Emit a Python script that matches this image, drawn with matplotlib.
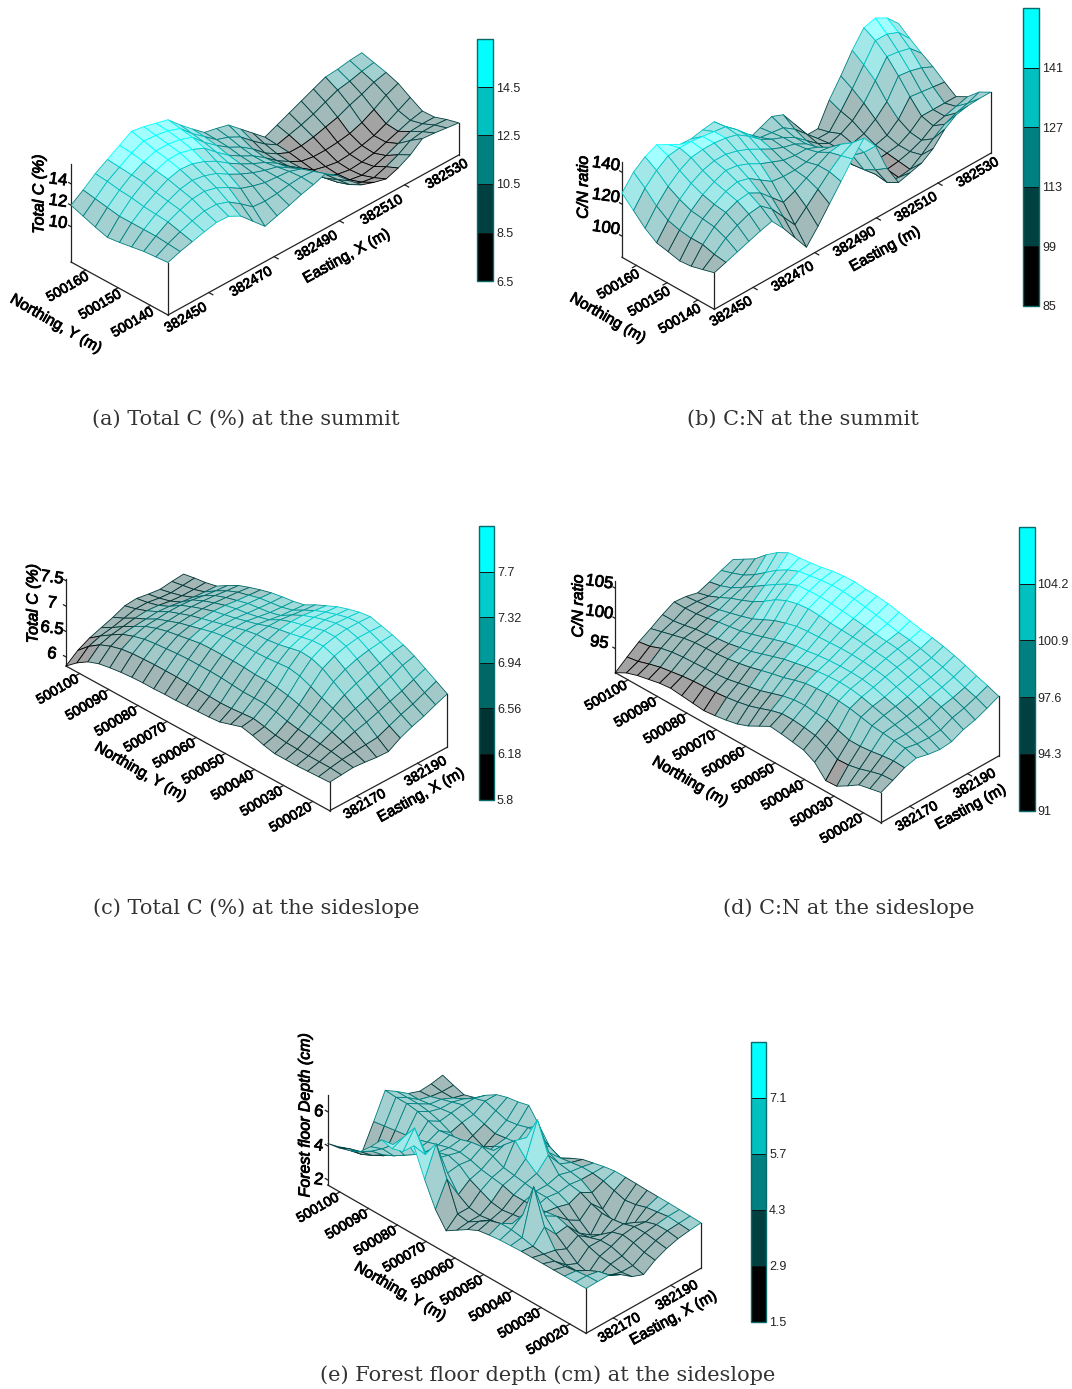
import numpy as np
import matplotlib
matplotlib.use("Agg")
import matplotlib.pyplot as plt
import matplotlib.patheffects as pe
from matplotlib.cm import ScalarMappable
from matplotlib.colors import ListedColormap, BoundaryNorm
from mpl_toolkits.mplot3d import proj3d

W, H = 1072, 1389
plt.rcParams["font.family"] = ["Liberation Sans", "DejaVu Sans"]

# --- data, rows run along Easting ---
total_c_summit = [
    [11.6, 12.0, 12.3, 12.6, 12.85, 12.8, 12.2, 11.1, 10.0, 10.35, 10.7, 11.1, 11.4, 11.8, 11.0, 9.9, 8.9, 8.5, 8.2, 8.6, 9.2, 10.1, 10.0, 9.85, 9.7],
    [11.5, 12.1, 12.6, 13.0, 13.3, 13.3, 12.9, 12.1, 11.2, 11.1, 11.2, 11.4, 11.5, 11.4, 10.5, 9.4, 8.3, 7.9, 7.7, 8.1, 8.6, 9.3, 9.5, 9.5, 9.4],
    [11.4, 12.2, 12.9, 13.4, 13.8, 13.9, 13.6, 13.0, 12.3, 11.9, 11.6, 11.5, 11.4, 11.0, 10.0, 8.9, 7.9, 7.5, 7.3, 7.5, 7.9, 8.4, 8.9, 9.0, 9.0],
    [11.2, 12.2, 13.0, 13.6, 14.1, 14.3, 14.1, 13.7, 13.0, 12.4, 11.9, 11.5, 11.2, 10.5, 9.6, 8.7, 7.8, 7.4, 7.2, 7.3, 7.5, 7.9, 8.3, 8.7, 8.95],
    [11.0, 12.2, 13.1, 13.8, 14.4, 14.7, 14.6, 14.2, 13.6, 12.8, 12.1, 11.5, 11.0, 10.3, 9.4, 8.6, 7.8, 7.5, 7.3, 7.4, 7.6, 7.9, 8.4, 9.0, 9.6],
    [10.85, 12.2, 13.3, 14.1, 14.6, 15.0, 15.0, 14.7, 14.2, 13.2, 12.3, 11.6, 11.0, 10.2, 9.3, 8.6, 8.0, 7.8, 7.8, 7.9, 8.1, 8.5, 9.1, 9.8, 10.3],
    [11.2, 12.4, 13.4, 14.2, 14.8, 15.2, 15.2, 15.0, 14.6, 13.5, 12.6, 11.8, 11.2, 10.4, 9.4, 8.7, 8.2, 8.2, 8.4, 8.7, 9.0, 9.5, 9.9, 10.4, 10.7],
    [11.6, 12.6, 13.6, 14.3, 15.0, 15.5, 15.4, 15.2, 14.8, 13.7, 12.8, 11.9, 11.5, 10.9, 9.9, 9.0, 8.3, 8.6, 8.9, 9.3, 9.8, 10.3, 10.5, 10.8, 11.0],
    [12.0, 12.8, 13.7, 14.4, 15.1, 15.8, 15.6, 15.3, 15.0, 13.9, 12.9, 11.95, 11.7, 11.4, 10.4, 9.4, 8.4, 8.9, 9.4, 9.9, 10.4, 10.9, 11.0, 11.2, 11.3],
]
cn_summit = [
    [109.6, 112, 114.5, 117, 119.5, 121.5, 113, 103, 93, 102, 112, 122, 132, 141, 132, 114, 101, 103, 105, 110, 118, 123, 124.5, 125, 125],
    [107.5, 113, 119, 123, 126, 127, 121, 112, 103, 110, 117, 124, 130, 134, 124, 109, 97, 96, 97, 102, 108, 113, 116, 118, 121],
    [105.5, 115, 122, 127, 130, 131, 127, 120, 113, 116, 120, 124, 128, 129, 118, 105, 98, 97, 98, 100, 103, 108, 110, 112, 114],
    [104.8, 115, 123, 128, 132, 134, 132, 127, 122, 121, 121, 122, 124, 123, 114, 104, 99, 98, 99, 100, 104, 110, 110, 110, 110],
    [106.5, 116, 124, 130, 134, 137, 136, 133, 129, 126, 123, 122, 122, 119, 111, 104, 100, 100, 100, 102, 108, 118, 117, 116, 115],
    [108, 118, 127, 133, 137, 139, 139, 137, 134, 130, 126, 123, 121, 117, 110, 104, 101, 101, 103, 108, 115, 127, 126, 124, 120.5],
    [113, 123, 131, 137, 141, 142, 142, 141, 139, 134, 128, 124, 121, 117, 111, 105, 101, 103, 107, 114, 124, 135, 134, 132, 125],
    [120, 130, 137, 142, 143, 143, 142, 141, 140, 134, 127, 121, 120, 119, 114, 107, 100, 100, 109, 119, 130, 141, 141, 138, 130],
    [127, 136, 141.5, 145, 141, 137, 136.5, 138, 139, 132, 124, 116, 119, 122, 119, 109, 98, 98, 112, 123, 135, 145, 147, 143, 135.5],
]
# --- sideslope grids: rows run along Northing, one row per Easting step ---
total_c_side = [
    [6.38, 6.37, 6.36, 6.35, 6.35, 6.35, 6.4, 6.47, 6.52, 6.45, 6.38, 6.36, 6.35, 6.34, 6.33, 6.33, 6.32, 6.32, 6.31, 6.29, 6.26, 6.22, 6.14, 6.0, 5.82],
    [6.40, 6.42, 6.42, 6.42, 6.43, 6.44, 6.47, 6.52, 6.56, 6.54, 6.52, 6.51, 6.52, 6.53, 6.54, 6.55, 6.55, 6.55, 6.54, 6.53, 6.5, 6.44, 6.35, 6.2, 6.0],
    [6.42, 6.46, 6.50, 6.53, 6.56, 6.58, 6.62, 6.68, 6.72, 6.72, 6.72, 6.74, 6.76, 6.77, 6.77, 6.77, 6.76, 6.74, 6.72, 6.69, 6.63, 6.55, 6.42, 6.28, 6.12],
    [6.40, 6.48, 6.56, 6.64, 6.70, 6.75, 6.82, 6.88, 6.92, 6.94, 6.94, 6.96, 6.97, 6.97, 6.97, 6.96, 6.92, 6.88, 6.84, 6.78, 6.7, 6.58, 6.46, 6.32, 6.2],
    [6.37, 6.5, 6.64, 6.76, 6.86, 6.95, 7.05, 7.14, 7.18, 7.16, 7.14, 7.13, 7.13, 7.12, 7.1, 7.06, 7.0, 6.94, 6.88, 6.8, 6.72, 6.6, 6.5, 6.38, 6.28],
    [6.36, 6.52, 6.7, 6.85, 7.0, 7.14, 7.28, 7.36, 7.38, 7.33, 7.28, 7.25, 7.24, 7.2, 7.14, 7.08, 7.02, 6.96, 6.9, 6.82, 6.74, 6.62, 6.52, 6.44, 6.38],
    [6.5, 6.62, 6.78, 6.93, 7.1, 7.26, 7.4, 7.48, 7.47, 7.42, 7.37, 7.33, 7.28, 7.2, 7.14, 7.08, 7.03, 6.98, 6.91, 6.83, 6.74, 6.6, 6.5, 6.44, 6.4],
    [6.6, 6.72, 6.86, 7.02, 7.18, 7.34, 7.47, 7.54, 7.54, 7.48, 7.42, 7.36, 7.28, 7.16, 7.1, 7.05, 7.02, 6.97, 6.9, 6.82, 6.72, 6.56, 6.46, 6.4, 6.36],
    [6.68, 6.8, 6.94, 7.1, 7.25, 7.39, 7.51, 7.57, 7.56, 7.51, 7.44, 7.36, 7.25, 7.12, 7.06, 7.03, 7.0, 6.94, 6.88, 6.8, 6.68, 6.53, 6.44, 6.38, 6.33],
    [6.78, 6.9, 7.04, 7.2, 7.32, 7.42, 7.51, 7.57, 7.55, 7.49, 7.42, 7.33, 7.22, 7.1, 7.04, 7.01, 6.98, 6.92, 6.86, 6.77, 6.65, 6.51, 6.44, 6.4, 6.36],
    [6.87, 7.0, 7.13, 7.26, 7.36, 7.44, 7.5, 7.56, 7.53, 7.47, 7.4, 7.3, 7.2, 7.08, 7.03, 7.0, 6.96, 6.9, 6.83, 6.75, 6.63, 6.5, 6.45, 6.42, 6.38],
]
cn_side = [
    [96, 95.6, 95.2, 94, 92.9, 92.8, 94.8, 95.8, 96.1, 96.4, 96.6, 95.6, 94.6, 93.9, 93.5, 93.2, 93, 93.2, 93.4, 93.6, 93.4, 93.0, 92.6, 92, 91],
    [96.9, 96.8, 96.3, 95.7, 95.3, 95.2, 96.3, 97.1, 97.4, 97.6, 97.6, 97.1, 96.4, 95.8, 95.4, 95.1, 94.9, 94.8, 94.7, 94.5, 94.2, 93.9, 93.4, 92.8, 92.5],
    [97.9, 98, 97.8, 97.5, 97.3, 97.3, 97.9, 98.5, 98.7, 98.9, 98.8, 98.4, 97.8, 97.2, 96.8, 96.4, 96, 95.8, 95.7, 95.6, 95.5, 95.3, 94.9, 94.2, 93.9],
    [98.4, 99, 99.2, 99.4, 99.6, 100, 100.4, 100.6, 100.7, 100.6, 100.4, 99.9, 99.3, 98.9, 98.4, 97.9, 97.5, 97.2, 97, 96.9, 96.8, 96.5, 96, 95.5, 95],
    [97.9, 98.6, 99.2, 99.7, 100.2, 100.7, 101.2, 101.5, 101.6, 101.5, 101.3, 101, 100.6, 100.2, 99.6, 99, 98.4, 98, 97.6, 97.4, 97.1, 96.9, 96.5, 96.2, 96.2],
    [97.6, 98.5, 99.3, 100, 100.6, 101.1, 101.7, 102, 102.1, 102.1, 102, 101.8, 101.5, 101.3, 100.9, 100.3, 99.7, 99.1, 98.6, 98.3, 98, 97.6, 97.3, 97.2, 97.2],
    [97.8, 98.7, 99.6, 100.4, 101.1, 101.7, 102.3, 102.6, 102.8, 102.9, 102.9, 102.8, 102.7, 102.6, 102.4, 101.9, 101.3, 100.4, 99.5, 98.9, 98.4, 97.9, 97.5, 97.2, 97],
    [98.7, 99.6, 100.4, 101, 101.7, 102.2, 102.8, 103.2, 103.4, 103.6, 103.7, 103.8, 103.9, 104.1, 104.2, 104, 103.5, 102.6, 101.3, 100.2, 99.4, 98.7, 97.8, 97, 96.5],
    [99.2, 100.1, 100.8, 101.5, 102.1, 102.7, 103.2, 103.7, 103.9, 104.1, 104.4, 104.6, 104.8, 105, 105.1, 105, 104.9, 104.1, 103, 101.8, 100.6, 99.4, 98.3, 97.6, 97.2],
    [100, 100.8, 101.4, 102.1, 102.7, 103.2, 103.7, 104.1, 104.3, 104.7, 105.1, 105.4, 105.7, 105.9, 105.9, 105.7, 105.4, 105.1, 104.3, 103.2, 101.8, 100.4, 99.3, 98.6, 98],
    [100.9, 101.6, 102.2, 102.9, 103.5, 104, 104.4, 104.7, 105.1, 105.5, 105.9, 106.1, 106.2, 106.4, 106.3, 106.1, 105.7, 105.4, 105.2, 105, 104, 102.6, 100.9, 99.8, 98.7],
]
depth_side = [
    [4.33, 4.33, 4.33, 4.33, 4.33, 4.33, 4.33, 4.30, 4.27, 4.2, 4.1, 3.8, 3.4, 3.0, 3.9, 5.3, 6.9, 6.2, 6.0, 6.16, 5.4, 4.74, 4.45, 4.25, 4.14],
    [4.35, 4.33, 4.25, 4.15, 4.1, 4.15, 4.25, 4.4, 4.5, 4.5, 4.3, 3.9, 3.5, 3.6, 5.3, 7.0, 6.0, 7.2, 6.3, 5.5, 4.9, 4.4, 4.0, 3.8, 3.55],
    [4.35, 4.2, 3.9, 3.5, 3.5, 4.0, 5.0, 7.0, 5.0, 4.1, 3.7, 3.6, 3.5, 3.6, 4.0, 4.9, 5.4, 5.3, 4.9, 4.5, 4.1, 3.8, 3.4, 3.1, 2.95],
    [4.0, 3.6, 3.2, 3.0, 3.2, 3.7, 4.2, 4.9, 4.3, 4.0, 3.9, 3.8, 3.9, 4.2, 4.5, 5.0, 5.2, 5.0, 4.7, 4.4, 4.0, 3.5, 3.0, 2.7, 2.5],
    [3.5, 3.4, 3.5, 3.6, 3.8, 4.1, 4.3, 4.5, 4.4, 4.3, 4.3, 4.3, 4.5, 4.6, 4.7, 4.9, 5.0, 4.9, 4.7, 4.5, 4.3, 4.2, 4.1, 4.0, 3.9],
    [3.24, 3.4, 3.6, 3.8, 3.8, 3.6, 3.5, 3.9, 4.3, 4.5, 4.5, 4.6, 4.7, 4.8, 5.1, 5.3, 5.2, 5.0, 4.9, 4.8, 5.0, 5.2, 5.3, 5.3, 5.35],
    [3.7, 3.8, 4.0, 4.1, 3.9, 3.4, 3.0, 3.5, 4.1, 4.4, 4.5, 4.8, 5.3, 6.0, 5.4, 4.7, 4.0, 3.2, 3.8, 4.3, 4.6, 4.8, 4.9, 4.9, 4.9],
    [4.0, 4.1, 4.2, 4.2, 4.0, 3.9, 3.9, 4.1, 4.4, 4.5, 4.7, 5.5, 7.2, 5.8, 4.9, 4.5, 4.2, 3.8, 4.1, 4.5, 4.7, 4.6, 4.5, 4.4, 4.4],
    [4.2, 4.3, 4.3, 4.1, 3.7, 3.1, 3.0, 3.4, 4.0, 4.4, 4.5, 4.6, 4.9, 5.0, 4.7, 4.4, 4.3, 4.2, 4.4, 4.6, 4.8, 4.6, 4.4, 4.2, 4.15],
    [4.3, 4.35, 4.4, 4.3, 4.2, 4.0, 3.9, 4.1, 4.3, 4.4, 4.4, 4.3, 4.2, 4.5, 4.9, 4.9, 4.7, 4.6, 4.8, 5.0, 4.8, 4.4, 4.1, 4.1, 4.2],
    [4.37, 4.4, 4.42, 4.44, 4.45, 4.46, 4.48, 4.5, 4.5, 4.4, 4.25, 4.1, 3.8, 3.4, 3.7, 4.6, 5.46, 5.3, 5.2, 5.0, 4.6, 4.1, 3.9, 4.1, 4.33],
]

bounds_a = [6.5, 8.5, 10.5, 12.5, 14.5, 16.5]
bounds_b = [85, 99, 113, 127, 141, 155]
bounds_c = [5.8, 6.18, 6.56, 6.94, 7.32, 7.7, 8.08]
bounds_d = [91, 94.3, 97.6, 100.9, 104.2, 107.5]
bounds_e = [1.5, 2.9, 4.3, 5.7, 7.1, 8.5]
labels_a = ["6.5", "8.5", "10.5", "12.5", "14.5"]
labels_b = ["85", "99", "113", "127", "141"]
labels_c = ["5.8", "6.18", "6.56", "6.94", "7.32", "7.7"]
labels_d = ["91", "94.3", "97.6", "100.9", "104.2"]
labels_e = ["1.5", "2.9", "4.3", "5.7", "7.1"]

colors5 = ["#000000", "#004040", "#008080", "#00c0c0", "#00ffff"]
colors6 = ["#000000", "#003333", "#006666", "#009999", "#00cccc", "#00ffff"]

easting_summit = [382450, 382470, 382490, 382510, 382530]
northing_summit = [500140, 500150, 500160]
easting_side = [382170, 382190]
northing_side = [500020, 500030, 500040, 500050, 500060, 500070, 500080, 500090, 500100]
ztick_a = [10, 12, 14]
ztick_b = [100, 120, 140]
ztick_c = [6, 6.5, 7, 7.5]
ztick_d = [95, 100, 105]
ztick_e = [2, 4, 6]

fig = plt.figure(figsize=(W / 100, H / 100), dpi=100)
stroke = [pe.withStroke(linewidth=0.6, foreground="black")]


def label(px, py, s, **kw):
    kw.setdefault("fontsize", 10)
    kw.setdefault("ha", "center")
    kw.setdefault("va", "center")
    kw.setdefault("rotation_mode", "anchor")
    t = fig.text(px / W, 1 - py / H, s, **kw)
    t.set_path_effects(stroke)
    return t


def surface(Z, xr, yr, zr, F, R, L, ztop, bounds, colors, xticks, yticks, zticks,
            xoff, yoff, zoff, zrot=-8):
    Z = np.array(Z, dtype=float)
    ny, nx = Z.shape
    xs = np.linspace(xr[0], xr[1], nx)
    ys = np.linspace(yr[0], yr[1], ny)
    X, Y = np.meshgrid(xs, ys)

    # camera from the three base corners
    xr_, xu = R[0] - F[0], F[1] - R[1]
    yl_, yu = F[0] - L[0], F[1] - L[1]
    sin_el = np.sqrt((xu / xr_) * (yu / yl_))
    tan_a = (xu / xr_) / sin_el
    a = np.arctan(tan_a)
    el = np.arcsin(sin_el)
    ax = fig.add_axes([0, 0, 1, 1], projection="3d", proj_type="ortho")
    ax.view_init(np.degrees(el), -90 - np.degrees(a))
    ax.set_box_aspect((xr_ / np.cos(a), yl_ / np.sin(a), (L[1] - ztop) / np.cos(el)))
    ax.set_xlim(*xr); ax.set_ylim(*yr); ax.set_zlim(*zr)
    ax.set_axis_off()
    ax.patch.set_visible(False)
    ax.computed_zorder = False

    def to_px(x, y, z):
        p = proj3d.proj_transform(x, y, z, ax.get_proj())
        q = ax.transData.transform((p[0], p[1]))
        return q[0], H - q[1]

    # size and shift the axes so the base corners land where they should
    s, cx, cy = 700.0, 500.0, 500.0
    for _ in range(3):
        ax.set_position([(cx - s / 2) / W, (H - cy - s / 2) / H, s / W, s / H])
        ax.apply_aspect()
        f = to_px(xr[0], yr[0], zr[0])
        r = to_px(xr[1], yr[0], zr[0])
        s *= (R[0] - F[0]) / (r[0] - f[0])
        ax.set_position([(cx - s / 2) / W, (H - cy - s / 2) / H, s / W, s / H])
        ax.apply_aspect()
        f = to_px(xr[0], yr[0], zr[0])
        cx += F[0] - f[0]
        cy += F[1] - f[1]
    ax.set_position([(cx - s / 2) / W, (H - cy - s / 2) / H, s / W, s / H])
    ax.apply_aspect()

    cmap = ListedColormap(colors)
    norm = BoundaryNorm(bounds, len(colors))
    mid = (Z[:-1, :-1] + Z[1:, :-1] + Z[:-1, 1:] + Z[1:, 1:]) / 4
    edge = cmap(norm(mid.ravel()))
    # the mesh in the reference is fine enough to read as a tint, so tint the cells
    face = edge.copy()
    face[:, :3] = 1 - 0.36 * (1 - edge[:, :3])
    surf = ax.plot_surface(X, Y, Z, rstride=1, cstride=1, color="white", shade=False,
                           linewidth=0.6, zorder=2)
    surf.set_facecolor(face)
    surf.set_edgecolor(edge)
    ax.set_xlim(*xr); ax.set_ylim(*yr); ax.set_zlim(*zr)

    # frame
    x0, x1, y0, y1, z0, z1 = xr[0], xr[1], yr[0], yr[1], zr[0], zr[1]
    ln = dict(color="#222222", lw=0.9, zorder=1)
    ax.plot([x0, x1], [y0, y0], [z0, z0], **ln)
    ax.plot([x0, x0], [y0, y1], [z0, z0], **ln)
    ax.plot([x0, x0], [y1, y1], [z0, z1], **ln)
    ax.plot([x0, x0], [y0, y0], [z0, Z[0, 0]], **ln)
    ax.plot([x1, x1], [y0, y0], [z0, Z[0, -1]], **ln)

    tx, ty = 0.02 * (x1 - x0) * 200 / (R[0] - F[0]), 0.02 * (y1 - y0) * 200 / (F[0] - L[0])
    for v in xticks:
        if x0 <= v <= x1:
            ax.plot([v, v], [y0, y0 - ty], [z0, z0], **ln)
        p = to_px(v, y0, z0)
        label(p[0] + xoff[0], p[1] + xoff[1], str(v), rotation=30)
    for v in yticks:
        if y0 <= v <= y1:
            ax.plot([x0, x0 - tx], [v, v], [z0, z0], **ln)
        p = to_px(x0, v, z0)
        label(p[0] + yoff[0], p[1] + yoff[1], str(v), rotation=30)
    for v in zticks:
        ax.plot([x0, x0], [y1, y1 + ty * 0.6], [v, v], **ln)
        p = to_px(x0, y1, v)
        label(p[0] + zoff[0], p[1] + zoff[1], str(v), rotation=zrot, fontsize=12)
    return ax


def colorbar(left, top, right, bottom, bounds, colors, labels):
    cax = fig.add_axes([left / W, 1 - bottom / H, (right - left) / W, (bottom - top) / H])
    sm = ScalarMappable(norm=BoundaryNorm(bounds, len(colors)), cmap=ListedColormap(colors))
    cb = fig.colorbar(sm, cax=cax, ticks=bounds[:-1], drawedges=True, spacing="uniform")
    cb.ax.minorticks_off()
    cb.ax.set_yticks(bounds[:-1], labels=labels)
    cb.ax.tick_params(length=0, pad=2, labelsize=9, labelcolor="#222222")
    cb.outline.set_edgecolor("#0a6a6a")
    cb.outline.set_linewidth(1.0)
    cb.dividers.set_color("#111111")
    cb.dividers.set_linewidth(0.7)


def transpose(rows):
    return np.array(rows, dtype=float).T


# (a)
surface(total_c_summit, (382437.5, 382526.6), (500134.6, 500164.5), (6.7, 15.85),
        (168, 315), (458.8, 155), (71, 262), 164, bounds_a, colors5,
        easting_summit, northing_summit, ztick_a, (-23, 25), (-18, 17), (-13, -4))
colorbar(477.3, 38.5, 493.5, 281, bounds_a, colors5, labels_a)
label(39, 194, "Total C (%)", rotation=90, style="italic", fontsize=11.5)
label(346.5, 256.5, "Easting, X (m)", rotation=29, fontsize=11)
label(55.8, 324, "Northing, Y (m)", rotation=-30, fontsize=11)

# (b)
surface(cn_summit, (382437.4, 382527.1), (500134.6, 500164.7), (86.7, 146.6),
        (714.3, 309.3), (990.7, 153.3), (622, 257.3), 161.7, bounds_b, colors5,
        easting_summit, northing_summit, ztick_b, (-22, 24), (-18, 19), (-16, -8))
colorbar(1023.3, 8.3, 1039.3, 305.7, bounds_b, colors5, labels_b)
label(583.3, 187.3, "C/N ratio", rotation=90, style="italic", fontsize=11.5)
label(885, 249.3, "Easting (m)", rotation=29, fontsize=11)
label(607.7, 318.3, "Northing (m)", rotation=-30, fontsize=11)

# (c)
surface(transpose(total_c_side), (382161.1, 382199.8), (500014.2, 500104.7), (5.82, 7.53),
        (329.6, 810.7), (447.3, 747.2), (65.9, 666), 579.2, bounds_c, colors6,
        easting_side, northing_side, ztick_c, (8, 8), (-22, 16), (-14, -3))
colorbar(478.7, 526, 494.2, 799.6, bounds_c, colors6, labels_c)
label(33, 603.5, "Total C (%)", rotation=90, style="italic", fontsize=11.5)
label(420.9, 795.5, "Easting, X (m)", rotation=29, fontsize=11)
label(140.3, 771.9, "Northing, Y (m)", rotation=-30, fontsize=11)

# (d)
surface(transpose(cn_side), (382160, 382200.8), (500014, 500104.3), (91, 106.2),
        (881, 822.7), (998.7, 756), (615.3, 672.7), 581, bounds_d, colors5,
        easting_side, northing_side, ztick_d, (7, 10), (-22, 16), (-16, -6))
colorbar(1019.3, 526.7, 1034.7, 810.7, bounds_d, colors5, labels_d)
label(578.3, 606, "C/N ratio", rotation=90, style="italic", fontsize=11.5)
label(970.7, 807.3, "Easting (m)", rotation=29, fontsize=11)
label(690, 781.7, "Northing (m)", rotation=-30, fontsize=11)

# (e)
surface(transpose(depth_side), (382160.5, 382200.5), (500014.4, 500104.2), (1.7, 6.98),
        (586, 1333.3), (701, 1268.3), (327.7, 1185), 1095, bounds_e, colors5,
        easting_side, northing_side, ztick_e, (6, 10), (-22, 16), (-9, 0))
colorbar(751, 1041.7, 766.3, 1321.7, bounds_e, colors5, labels_e)
label(305, 1115, "Forest floor Depth (cm)", rotation=90, style="italic", fontsize=11.5)
label(673.3, 1318.3, "Easting, X (m)", rotation=29, fontsize=11)
label(400, 1291.7, "Northing, Y (m)", rotation=-30, fontsize=11)

# captions
cap = dict(family=["DejaVu Serif"], fontsize=15, color="#333333", ha="center", va="center")
fig.text(245.5 / W, 1 - 419 / H, "(a) Total C (%) at the summit", **cap)
fig.text(803 / W, 1 - 419 / H, "(b) C:N at the summit", **cap)
fig.text(256 / W, 1 - 908 / H, "(c) Total C (%) at the sideslope", **cap)
fig.text(849 / W, 1 - 908 / H, "(d) C:N at the sideslope", **cap)
fig.text(548 / W, 1 - 1375 / H, "(e) Forest floor depth (cm) at the sideslope", **cap)

fig.savefig("out.png", dpi=100)
